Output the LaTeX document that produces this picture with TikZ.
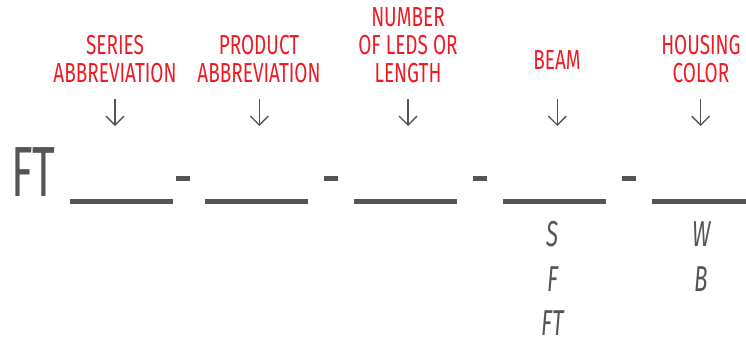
\documentclass[tikz,border=0pt]{standalone}
\usepackage{fontspec}
\usetikzlibrary{arrows.meta}
\newfontfamily\labfont{Fira Sans}[FakeStretch=0.69]
\newfontfamily\thinfont{Fira Sans}[FakeStretch=0.62]
\definecolor{lred}{RGB}{237,28,36}
\definecolor{dgray}{RGB}{85,85,85}
\tikzset{
  lab/.style={text=lred, font=\labfont\fontsize{27.5}{28}\selectfont, align=center, inner sep=0pt, anchor=south},
  opt/.style={text=dgray, font=\thinfont\itshape\fontsize{36}{36}\selectfont, inner sep=0pt, anchor=base},
  blank/.style={draw=dgray, line width=5pt},
  sep/.style={draw=dgray, line width=4.5pt},
  arr/.style={draw=dgray, line width=1.3pt, -{Straight Barb[length=9pt,width=18pt,line width=1.3pt]}},
}
\begin{document}
\begin{tikzpicture}[x=1pt,y=-1pt]
\useasboundingbox (0,0) rectangle (746,340);
% labels
\node[lab] (l1) at (115,83) {SERIES\\ABBREVIATION};
\node[lab] (l2) at (259,83) {PRODUCT\\ABBREVIATION};
\node[lab] (l3) at (408,83) {NUMBER\\OF LEDS OR\\LENGTH};
\node[lab] (l4) at (557,70) {BEAM};
\node[lab] (l5) at (701,83) {HOUSING\\COLOR};
% arrows
\foreach \i/\x in {1/115,2/259.3,3/408,4/557.3,5/700.7}{
  \coordinate (a\i) at (\x,99);
  \coordinate (b\i) at (\x,126);
  \draw[arr] (a\i) -- (b\i);
}
% prefix
\node[text=dgray, font=\thinfont\fontsize{71}{71}\selectfont, inner sep=0pt, anchor=base west] (ft) at (11,196) {FT};
% blanks
\foreach \i/\xa/\xb in {1/70/173,2/205/308,3/354/457,4/503/606,5/652/755}{
  \coordinate (s\i) at (\xa,201.5);
  \coordinate (e\i) at (\xb,201.5);
  \draw[blank] (s\i) -- (e\i);
}
% separators
\foreach \i/\xa in {1/176,2/324,3/473,4/622}{
  \coordinate (d\i) at (\xa,178.5);
  \coordinate (f\i) at (\xa+14,178.5);
  \draw[sep] (d\i) -- (f\i);
}
% options
\node[opt] (o1) at (552.5,246.5) {S};
\node[opt] (o2) at (552.5,291.5) {F};
\node[opt] (o3) at (552.5,335) {FT};
\node[opt] (o4) at (701.7,246.5) {W};
\node[opt] (o5) at (701.7,291.5) {B};
\end{tikzpicture}
\end{document}
